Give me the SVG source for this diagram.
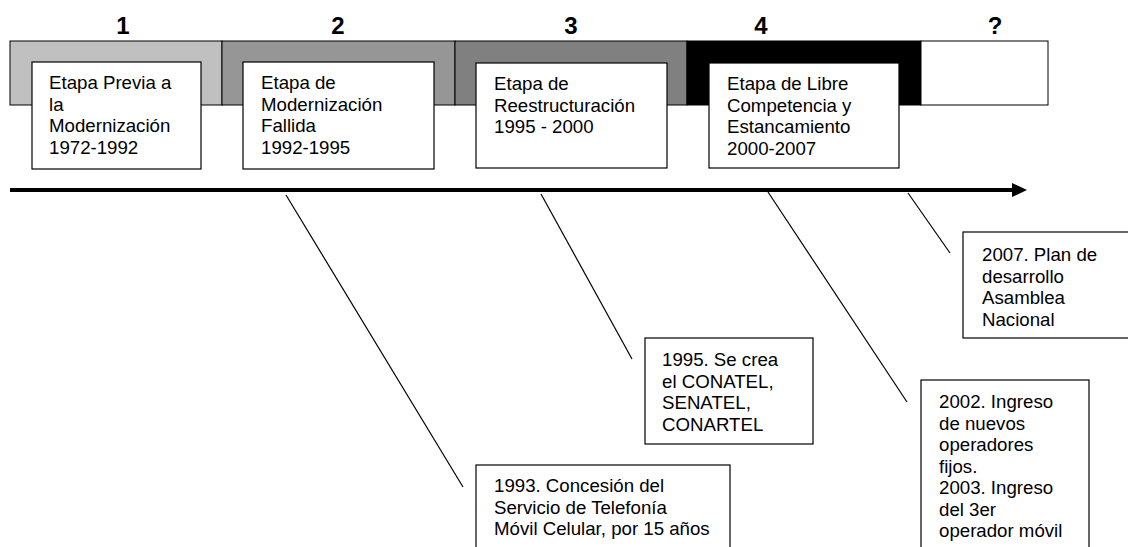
<svg xmlns="http://www.w3.org/2000/svg" width="1128" height="547" viewBox="0 0 1128 547">
<style>
  .band { stroke: #000; stroke-width: 1; }
  .box { fill: #fff; stroke: #000; stroke-width: 1.2; }
  .t { font-family: "Liberation Sans", Arial, sans-serif; font-size: 18.67px; fill: #000; }
  .num { font-family: "Liberation Sans", Arial, sans-serif; font-size: 24px; font-weight: bold; fill: #000; text-anchor: middle; }
  .conn { stroke: #000; stroke-width: 1.2; fill: none; }
  .axis { stroke: #000; stroke-width: 4; fill: none; }
</style>
<defs>
  <marker id="arrow" markerUnits="userSpaceOnUse" markerWidth="16" markerHeight="16" refX="1" refY="7" orient="auto">
    <polygon points="0,0 15,7 0,14" fill="#000"/>
  </marker>
</defs>
<rect width="1128" height="547" fill="#fff"/>

<g id="band">
  <rect class="band" x="10" y="41" width="212" height="64" fill="#c0c0c0"/>
  <rect class="band" x="222" y="41" width="233" height="64" fill="#969696"/>
  <rect class="band" x="455" y="41" width="232" height="64" fill="#808080"/>
  <rect class="band" x="687" y="41" width="234" height="64" fill="#000"/>
  <rect class="band" x="921" y="41" width="127" height="64" fill="#fff"/>
  <text class="num" x="123" y="34">1</text>
  <text class="num" x="338" y="34">2</text>
  <text class="num" x="571" y="34">3</text>
  <text class="num" x="761" y="34">4</text>
  <text class="num" x="995" y="34">?</text>
</g>

<g id="etapa1">
  <rect class="box" x="32" y="62" width="169" height="107"/>
  <text class="t" x="49" y="89">Etapa Previa a</text>
  <text class="t" x="49" y="110.5">la</text>
  <text class="t" x="49" y="132">Modernización</text>
  <text class="t" x="49" y="153.5">1972-1992</text>
</g>
<g id="etapa2">
  <rect class="box" x="243" y="62" width="191" height="107"/>
  <text class="t" x="261" y="89">Etapa de</text>
  <text class="t" x="261" y="110.5">Modernización</text>
  <text class="t" x="261" y="132">Fallida</text>
  <text class="t" x="261" y="153.5">1992-1995</text>
</g>
<g id="etapa3">
  <rect class="box" x="476" y="63" width="191" height="105"/>
  <text class="t" x="494" y="90">Etapa de</text>
  <text class="t" x="494" y="111.5">Reestructuración</text>
  <text class="t" x="494" y="133">1995 - 2000</text>
</g>
<g id="etapa4">
  <rect class="box" x="709" y="63" width="190" height="105"/>
  <text class="t" x="727" y="90">Etapa de Libre</text>
  <text class="t" x="727" y="111.5">Competencia y</text>
  <text class="t" x="727" y="133">Estancamiento</text>
  <text class="t" x="727" y="154.5">2000-2007</text>
</g>

<g id="connectors">
  <line class="axis" x1="10" y1="190" x2="1013" y2="190" marker-end="url(#arrow)"/>
  <line class="conn" x1="286" y1="195" x2="463" y2="487"/>
  <line class="conn" x1="541" y1="194" x2="632" y2="359"/>
  <line class="conn" x1="768" y1="192" x2="907" y2="402"/>
  <line class="conn" x1="908" y1="193" x2="950" y2="253"/>
</g>

<g id="evento1993">
  <rect class="box" x="476" y="465" width="254" height="100"/>
  <text class="t" x="494" y="492">1993. Concesión del</text>
  <text class="t" x="494" y="513.5">Servicio de Telefonía</text>
  <text class="t" x="494" y="535">Móvil Celular, por 15 años</text>
</g>
<g id="evento1995">
  <rect class="box" x="645" y="338" width="168" height="106"/>
  <text class="t" x="662" y="366">1995. Se crea</text>
  <text class="t" x="662" y="387.5">el CONATEL,</text>
  <text class="t" x="662" y="409">SENATEL,</text>
  <text class="t" x="662" y="430.5">CONARTEL</text>
</g>
<g id="evento2002">
  <rect class="box" x="921" y="380" width="168" height="190"/>
  <text class="t" x="939" y="408">2002. Ingreso</text>
  <text class="t" x="939" y="429.5">de nuevos</text>
  <text class="t" x="939" y="451">operadores</text>
  <text class="t" x="939" y="472.5">fijos.</text>
  <text class="t" x="939" y="494">2003. Ingreso</text>
  <text class="t" x="939" y="515.5">del 3er</text>
  <text class="t" x="939" y="537">operador móvil</text>
</g>
<g id="evento2007">
  <rect class="box" x="963" y="232" width="170" height="106"/>
  <text class="t" x="982" y="261">2007. Plan de</text>
  <text class="t" x="982" y="282.5">desarrollo</text>
  <text class="t" x="982" y="304">Asamblea</text>
  <text class="t" x="982" y="325.5">Nacional</text>
</g>
</svg>
